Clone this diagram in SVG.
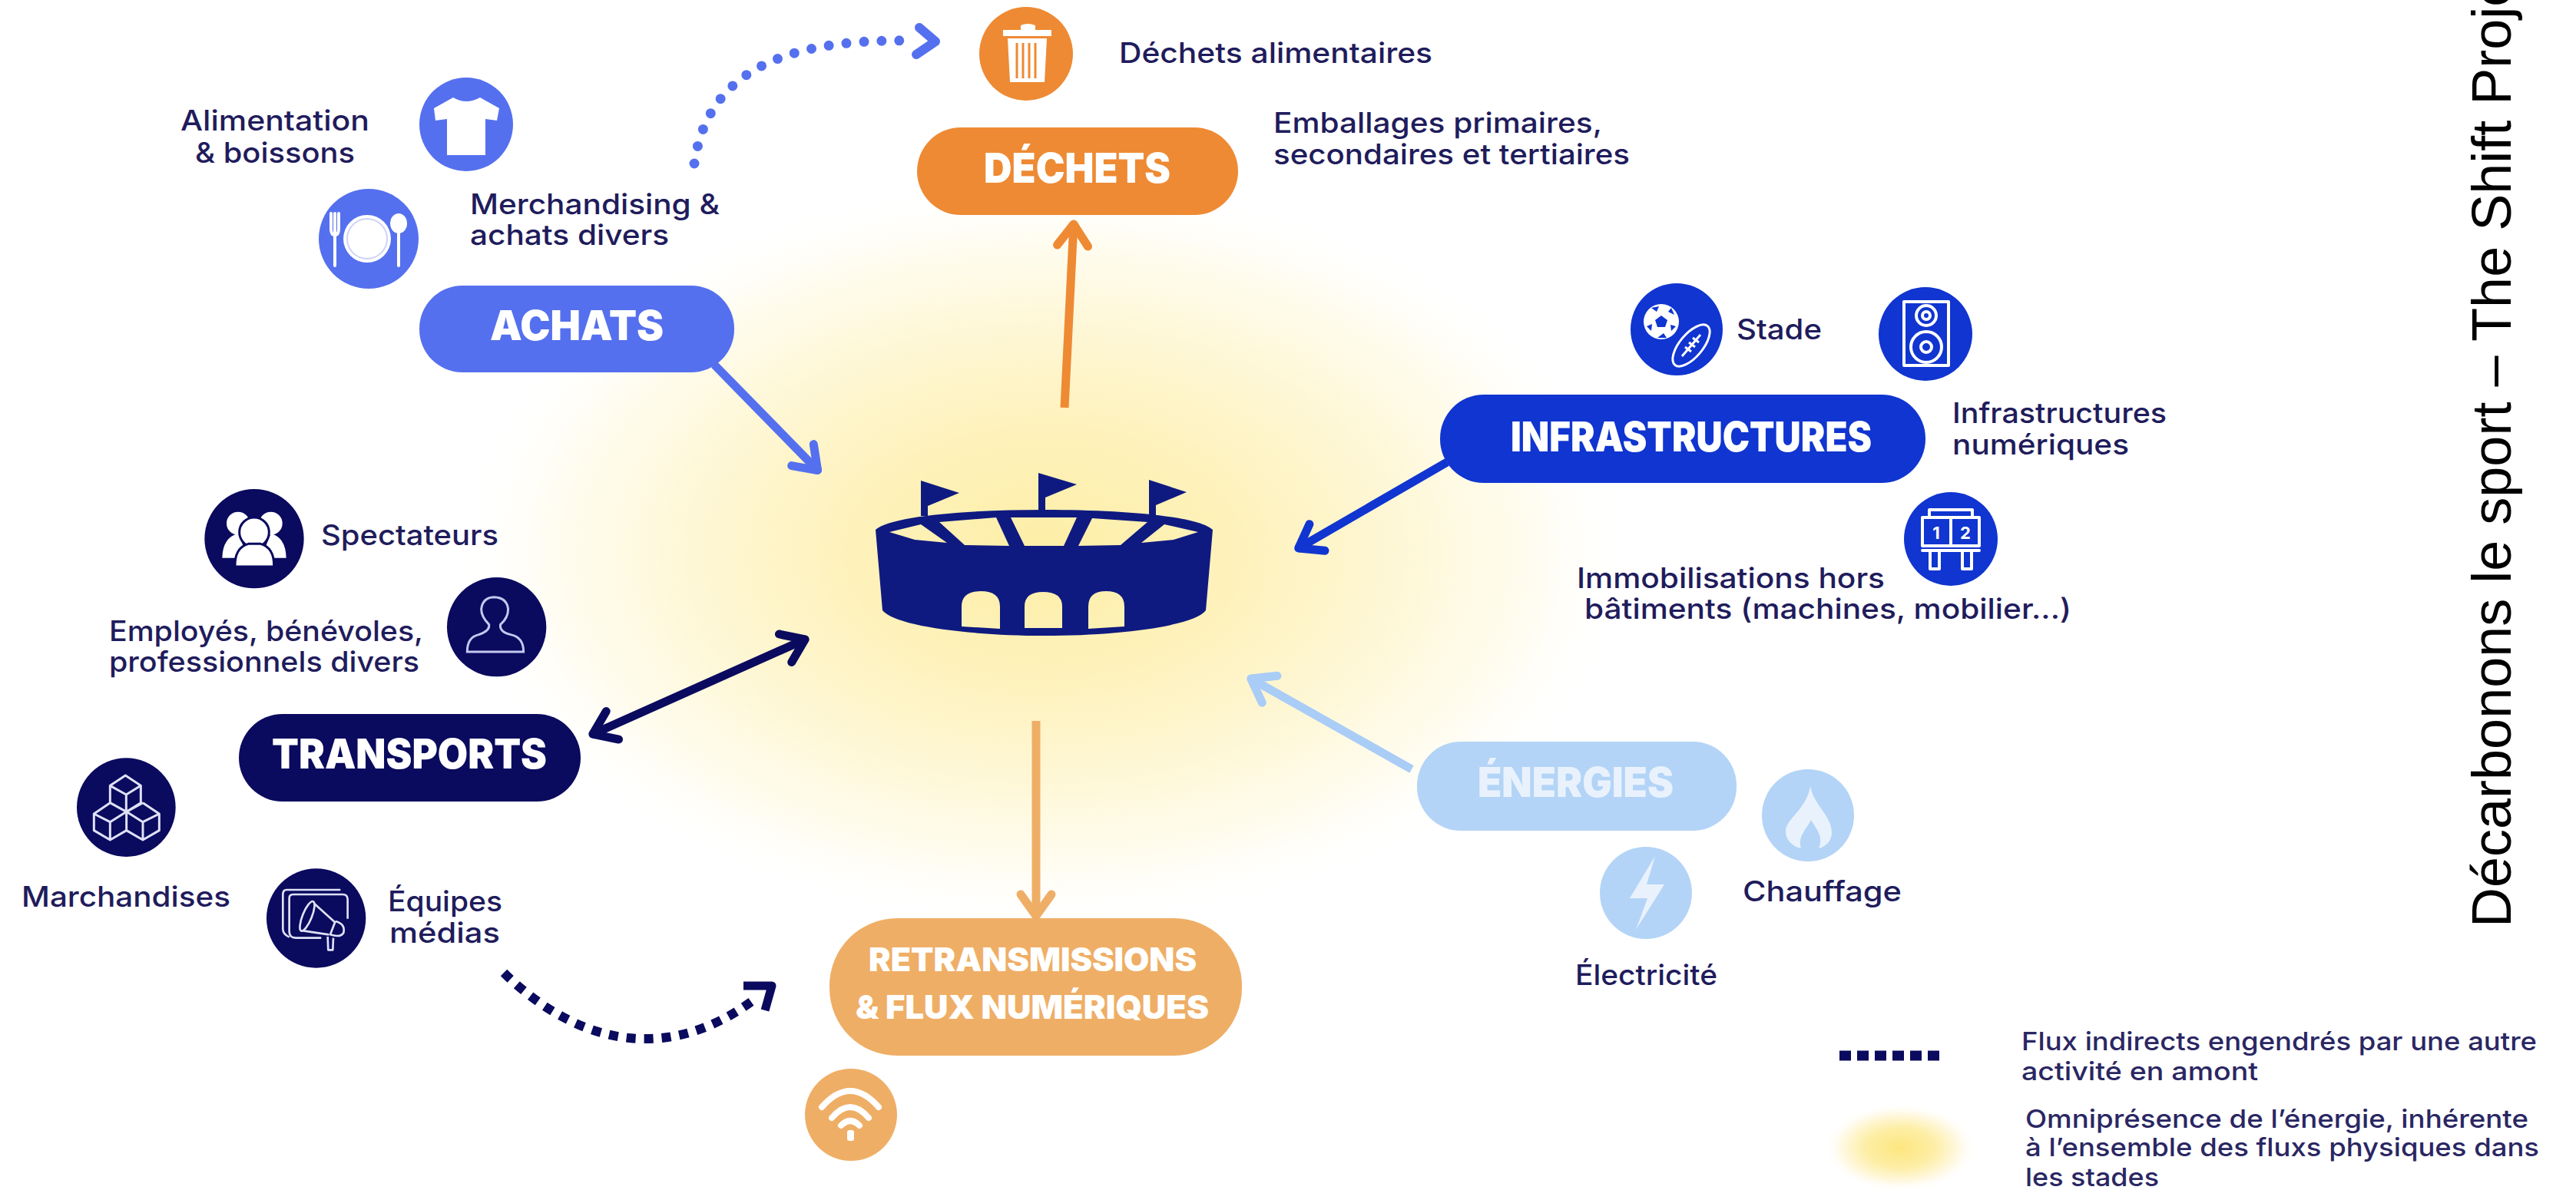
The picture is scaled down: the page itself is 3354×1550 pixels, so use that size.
<svg xmlns="http://www.w3.org/2000/svg" width="3354" height="1550" viewBox="0 0 3354 1550">
<style>
text{font-family:"Inter","Liberation Sans",sans-serif}
.t{font-size:37px;fill:#1f1c5c;font-weight:500}
.l{font-size:33px;fill:#2a2763;font-weight:500}
.p{font-weight:900;fill:#fff;font-size:53px}
.c{fill:none;stroke-width:11;stroke-linecap:butt}
.i{fill:none;stroke:#fff;stroke-width:4;stroke-linejoin:round;stroke-linecap:round}
.w{fill:#fff}
.a{fill:#5570ee}.o{fill:#ee8a33}.n{fill:#0a0a5e}.b{fill:#1035d0}.e{fill:#b3d4f7}.r{fill:#efae66}
</style>
<defs>
<radialGradient id="glow" cx="0.5" cy="0.5" r="0.5">
<stop offset="0" stop-color="#fdeea6"/><stop offset=".35" stop-color="#fef2bd"/><stop offset=".6" stop-color="#fef7d6"/><stop offset=".85" stop-color="#fffdf3"/><stop offset="1" stop-color="#fff" stop-opacity="0"/>
</radialGradient>
<radialGradient id="glow2" cx="0.5" cy="0.5" r="0.5">
<stop offset="0" stop-color="#fde67f"/><stop offset=".45" stop-color="#fdeea6"/><stop offset=".8" stop-color="#fffaea"/><stop offset="1" stop-color="#fff" stop-opacity="0"/>
</radialGradient>
<marker id="mA" markerUnits="userSpaceOnUse" orient="auto" overflow="visible" markerWidth="1" markerHeight="1"><path d="M-30,-20L-2,0L-30,20" fill="none" stroke="#5570ee" stroke-width="11" stroke-linecap="round" stroke-linejoin="round"/></marker>
<marker id="mO" markerUnits="userSpaceOnUse" orient="auto" overflow="visible" markerWidth="1" markerHeight="1"><path d="M-30,-20L-2,0L-30,20" fill="none" stroke="#ee8a33" stroke-width="11" stroke-linecap="round" stroke-linejoin="round"/></marker>
<marker id="mB" markerUnits="userSpaceOnUse" orient="auto" overflow="visible" markerWidth="1" markerHeight="1"><path d="M-30,-20L-2,0L-30,20" fill="none" stroke="#1035d0" stroke-width="11" stroke-linecap="round" stroke-linejoin="round"/></marker>
<marker id="mN" markerUnits="userSpaceOnUse" orient="auto" overflow="visible" markerWidth="1" markerHeight="1"><path d="M-30,-20L-2,0L-30,20" fill="none" stroke="#0a0a5e" stroke-width="11" stroke-linecap="round" stroke-linejoin="round"/></marker>
<marker id="mNs" markerUnits="userSpaceOnUse" orient="auto-start-reverse" overflow="visible" markerWidth="1" markerHeight="1"><path d="M-30,-20L-2,0L-30,20" fill="none" stroke="#0a0a5e" stroke-width="11" stroke-linecap="round" stroke-linejoin="round"/></marker>
<marker id="mR" markerUnits="userSpaceOnUse" orient="auto" overflow="visible" markerWidth="1" markerHeight="1"><path d="M-30,-20L-2,0L-30,20" fill="none" stroke="#efae66" stroke-width="11" stroke-linecap="round" stroke-linejoin="round"/></marker>
<marker id="mE" markerUnits="userSpaceOnUse" orient="auto" overflow="visible" markerWidth="1" markerHeight="1"><path d="M-30,-20L-2,0L-30,20" fill="none" stroke="#a9cdf6" stroke-width="11" stroke-linecap="round" stroke-linejoin="round"/></marker>
</defs>
<rect width="3354" height="1550" fill="#fff"/>
<ellipse id="glow-center" cx="1360" cy="720" rx="770" ry="490" fill="url(#glow)"/>

<g id="connectors">
<path class="c" stroke="#5570ee" d="M930,475L1066,614" marker-end="url(#mA)"/>
<path class="c" stroke="#ee8a33" d="M1386,531L1398,290" marker-end="url(#mO)"/>
<path class="c" stroke="#1035d0" d="M1884,602L1689,715" marker-end="url(#mB)"/>
<path class="c" stroke="#0a0a5e" d="M770,957L1050,832" marker-start="url(#mNs)" marker-end="url(#mN)"/>
<path class="c" stroke="#efae66" d="M1349,939V1195" marker-end="url(#mR)"/>
<path class="c" stroke="#a9cdf6" d="M1838,1002L1627,883" marker-end="url(#mE)"/>
<path fill="none" stroke="#5570ee" stroke-width="13" stroke-linecap="round" stroke-dasharray="0 23" d="M904,213C920,100 1010,50 1186,53"/>
<path fill="none" stroke="#5570ee" stroke-width="12" stroke-linecap="round" stroke-linejoin="round" d="M1197,36L1218,54L1193,71"/>
<path fill="none" stroke="#0a0a5e" stroke-width="12" stroke-dasharray="12 11" d="M656,1267C740,1350 860,1395 986,1299"/>
<path fill="none" stroke="#0a0a5e" stroke-width="11" stroke-linejoin="round" d="M968,1284L1005,1284L996,1316"/>
</g>

<g id="node-stade">
<path fill="#0f1a80" fill-rule="evenodd" d="M1140,690C1160,672 1260,664 1360,664C1460,664 1560,672 1579,690L1570,795C1555,815 1460,828 1360,828C1260,828 1165,815 1149,795Z
M1158,693L1199,683L1233,707L1191,703Z
M1223,680L1297,674L1314,711L1256,710Z
M1316,674L1402,674L1385,711L1334,711Z
M1422,675L1494,680L1459,710L1404,711Z
M1516,683L1560,693L1528,703L1486,707Z
M1252,816V790Q1252,770 1277,770Q1302,770 1302,790V819Z
M1334,818V790Q1334,771 1358,771Q1383,771 1383,790V818Z
M1417,819V790Q1417,770 1440,770Q1464,770 1464,790V816Z"/>
<g fill="#0f1a80">
<path d="M1199,626L1249,642L1208,659V672H1199Z"/>
<path d="M1352,616L1402,631L1361,648V668H1352Z"/>
<path d="M1496,625L1545,641L1505,658V672H1496Z"/>
</g>
</g>

<g id="node-achats">
<rect class="a" x="546" y="372" width="410" height="113" rx="56"/>
<text class="p" x="638" y="443" textLength="226" lengthAdjust="spacingAndGlyphs">ACHATS</text>
</g>
<g id="item-alimentation">
<circle class="a" cx="607" cy="162" r="61"/>
<path class="w" d="M590,127Q607,137 625,127L650,141L647,157L632,155V202H582V155L567,157L565,141Z"/>
<text class="t" x="235" y="170" textLength="246" lengthAdjust="spacingAndGlyphs">Alimentation</text>
<text class="t" x="254" y="212" textLength="208" lengthAdjust="spacingAndGlyphs">&amp; boissons</text>
</g>
<g id="item-merchandising">
<circle class="a" cx="480" cy="311" r="65"/>
<circle cx="478" cy="311" r="31" fill="#fff"/><circle cx="478" cy="311" r="26" fill="none" stroke="#cdd3f5" stroke-width="2"/>
<path class="i" d="M431,278V298Q431,306 436,306Q441,306 441,298V278M436,278V346"/>
<ellipse class="w" cx="519" cy="291" rx="11" ry="13"/><path class="i" d="M519,300V346"/>
<text class="t" x="612" y="279" textLength="325" lengthAdjust="spacingAndGlyphs">Merchandising &amp;</text>
<text class="t" x="612" y="319" textLength="259" lengthAdjust="spacingAndGlyphs">achats divers</text>
</g>

<g id="node-dechets">
<rect class="o" x="1194" y="166" width="418" height="114" rx="57"/>
<text class="p" x="1281" y="238" textLength="243" lengthAdjust="spacingAndGlyphs">DÉCHETS</text>
</g>
<g id="item-dechets-alimentaires">
<circle class="o" cx="1336" cy="70" r="61"/>
<path class="w" d="M1329,39V33Q1338,29 1348,33V39H1369V47H1306V39Z"/>
<path class="w" d="M1312,50H1363L1360,107H1315Z"/>
<path stroke="#ee8a33" stroke-width="3" d="M1324,56V102M1332,56V102M1340,56V102M1348,56V102"/>
<text class="t" x="1457" y="82" textLength="408" lengthAdjust="spacingAndGlyphs">Déchets alimentaires</text>
</g>
<g id="item-emballages">
<text class="t" x="1658" y="173" textLength="428" lengthAdjust="spacingAndGlyphs">Emballages primaires,</text>
<text class="t" x="1658" y="214" textLength="464" lengthAdjust="spacingAndGlyphs">secondaires et tertiaires</text>
</g>

<g id="node-infrastructures">
<rect class="b" x="1875" y="514" width="632" height="115" rx="57"/>
<text class="p" x="1967" y="588" textLength="470" lengthAdjust="spacingAndGlyphs">INFRASTRUCTURES</text>
</g>
<g id="item-stade">
<circle class="b" cx="2183" cy="429" r="60"/>
<circle class="w" cx="2163" cy="419" r="23"/>
<path class="b" d="M2163,411L2171,417L2168,426H2158L2155,417Z"/>
<path class="b" d="M2150,401L2160,399L2157,406ZM2176,401L2180,410L2172,406ZM2144,425L2151,422L2150,431ZM2182,425L2176,431L2175,423ZM2158,440L2166,434L2170,440Z"/>
<ellipse cx="2202" cy="450" rx="33" ry="15" transform="rotate(-50 2202 450)" fill="#1035d0" stroke="#fff" stroke-width="3"/>
<path fill="none" stroke="#fff" stroke-width="3" d="M2190,464L2214,436M2194,452L2202,458M2199,446L2207,452M2204,440L2212,446"/>
<text class="t" x="2261" y="442" textLength="111" lengthAdjust="spacingAndGlyphs">Stade</text>
</g>
<g id="item-numeriques">
<circle class="b" cx="2507" cy="435" r="61"/>
<rect class="i" x="2479" y="393" width="58" height="83"/>
<circle class="i" cx="2508" cy="411" r="13"/><circle class="i" cx="2508" cy="411" r="5"/>
<circle class="i" cx="2508" cy="452" r="20"/><circle class="i" cx="2508" cy="452" r="7"/>
<text class="t" x="2542" y="551" textLength="279" lengthAdjust="spacingAndGlyphs">Infrastructures</text>
<text class="t" x="2542" y="592" textLength="230" lengthAdjust="spacingAndGlyphs">numériques</text>
</g>
<g id="item-immobilisations">
<circle class="b" cx="2540" cy="702" r="61"/>
<path class="i" d="M2512,674V664H2568V674M2503,674H2577V711H2503ZM2540,674V711M2503,717H2577M2513,717V741H2525V717M2555,717V741H2567V717"/>
<text x="2521" y="702" text-anchor="middle" font-size="22" font-weight="700" fill="#fff">1</text>
<text x="2559" y="702" text-anchor="middle" font-size="22" font-weight="700" fill="#fff">2</text>
<text class="t" x="2053" y="766" textLength="401" lengthAdjust="spacingAndGlyphs">Immobilisations hors</text>
<text class="t" x="2063" y="806" textLength="634" lengthAdjust="spacingAndGlyphs">bâtiments (machines, mobilier...)</text>
</g>

<g id="node-transports">
<rect class="n" x="311" y="930" width="445" height="114" rx="57"/>
<text class="p" x="354" y="1001" textLength="358" lengthAdjust="spacingAndGlyphs">TRANSPORTS</text>
</g>
<g id="item-spectateurs">
<g transform="translate(260,630) scale(.3333)">
<circle class="n" cx="213" cy="215" r="194"/>
<circle class="w" cx="150" cy="155" r="45"/><circle class="w" cx="278" cy="155" r="45"/>
<path class="w" d="M88,290Q90,210 150,195L190,290ZM338,290Q336,210 278,195L240,290Z"/>
<circle class="w" cx="213" cy="190" r="58" stroke="#0a0a5e" stroke-width="9"/>
<path class="w" stroke="#0a0a5e" stroke-width="9" d="M138,324Q136,250 190,235H238Q292,250 290,324Z"/>
</g>
<text class="t" x="418" y="710" textLength="231" lengthAdjust="spacingAndGlyphs">Spectateurs</text>
</g>
<g id="item-employes">
<g transform="translate(260,630) scale(.3333)">
<circle class="n" cx="1160" cy="560" r="194"/>
<path fill="none" stroke="#c4c8f0" stroke-width="9" d="M1045,657Q1045,600 1090,590Q1135,575 1130,550Q1100,520 1100,490Q1105,445 1150,443Q1200,445 1205,490Q1205,525 1175,550Q1170,580 1215,590Q1265,600 1265,657Z"/>
</g>
<text class="t" x="142" y="835" textLength="409" lengthAdjust="spacingAndGlyphs">Employés, bénévoles,</text>
<text class="t" x="142" y="875" textLength="404" lengthAdjust="spacingAndGlyphs">professionnels divers</text>
</g>
<g id="item-marchandises">
<g transform="translate(90,980) scale(.3333)">
<circle class="n" cx="223" cy="215" r="193"/>
<path fill="none" stroke="#dfe1f7" stroke-width="9" stroke-linejoin="round" d="M220,90L280,130V197L224,232L160,197V130ZM160,130L223,165L280,130M223,165V232M160,197L97,240V305L160,342L224,305V232M97,240L160,272L224,232M160,272V342M288,197L224,232L288,272L352,240V305L288,342L224,305M288,197L352,240M288,272V342"/>
</g>
<text class="t" x="28" y="1181" textLength="272" lengthAdjust="spacingAndGlyphs">Marchandises</text>
</g>
<g id="item-medias">
<g transform="translate(90,980) scale(.3333)">
<circle class="n" cx="965" cy="648" r="194"/>
<path fill="none" stroke="#dfe1f7" stroke-width="8" stroke-linejoin="round" d="M1088,650V575Q1088,555 1068,555H875Q860,555 860,570V700Q860,725 885,725H985M1060,537H850Q835,537 835,555V690Q835,710 860,722"/>
<ellipse cx="930" cy="640" rx="18" ry="62" fill="none" stroke="#dfe1f7" stroke-width="8" transform="rotate(22 930 640)"/>
<path fill="none" stroke="#dfe1f7" stroke-width="8" stroke-linejoin="round" d="M957,590L1040,665M915,697L1015,712M1040,660Q1080,670 1072,705Q1060,725 1020,712L1040,660M1010,720L1012,772H1030L1032,725"/>
</g>
<text class="t" x="505" y="1187" textLength="149" lengthAdjust="spacingAndGlyphs">Équipes</text>
<text class="t" x="507" y="1228" textLength="144" lengthAdjust="spacingAndGlyphs">médias</text>
</g>

<g id="node-retransmissions">
<rect class="r" x="1080" y="1196" width="537" height="179" rx="88"/>
<text class="p" style="font-size:42px" x="1131" y="1265" textLength="427" lengthAdjust="spacingAndGlyphs">RETRANSMISSIONS</text>
<text class="p" style="font-size:42px" x="1114" y="1327" textLength="460" lengthAdjust="spacingAndGlyphs">&amp; FLUX NUMÉRIQUES</text>
</g>
<g id="item-wifi">
<circle class="r" cx="1108" cy="1452" r="60"/>
<path fill="none" stroke="#fff" stroke-width="8" stroke-linecap="round" d="M1070,1442Q1107,1400 1144,1442M1083,1456Q1107,1428 1131,1456M1095,1466Q1107,1454 1119,1466"/>
<rect class="w" x="1103" y="1472" width="9" height="14" rx="3"/>
</g>

<g id="node-energies">
<rect class="e" x="1845" y="966" width="416" height="116" rx="57"/>
<text class="p" x="1924" y="1038" textLength="255" lengthAdjust="spacingAndGlyphs" style="fill:#e9f2fc">ÉNERGIES</text>
</g>
<g id="item-chauffage">
<circle class="e" cx="2354" cy="1062" r="60"/>
<path fill="#e9f2fc" d="M2357,1024C2362,1050 2385,1062 2385,1085C2385,1096 2376,1103 2368,1105C2375,1090 2365,1080 2358,1068C2352,1080 2340,1090 2345,1105C2335,1103 2325,1095 2325,1083C2325,1066 2352,1055 2357,1024Z"/>
<text class="t" x="2269" y="1174" textLength="207" lengthAdjust="spacingAndGlyphs">Chauffage</text>
</g>
<g id="item-electricite">
<circle class="e" cx="2143" cy="1163" r="60"/>
<path fill="#e9f2fc" d="M2155,1115L2122,1170H2145L2130,1211L2167,1152H2144Z"/>
<text class="t" x="2051" y="1283" textLength="185" lengthAdjust="spacingAndGlyphs">Électricité</text>
</g>

<g id="legend">
<path stroke="#0a0a5e" stroke-width="13" stroke-dasharray="15 8" fill="none" d="M2395,1375H2525"/>
<text class="l" x="2632" y="1368" textLength="671" lengthAdjust="spacingAndGlyphs">Flux indirects engendrés par une autre</text>
<text class="l" x="2632" y="1407" textLength="308" lengthAdjust="spacingAndGlyphs">activité en amont</text>
<ellipse cx="2474" cy="1495" rx="100" ry="58" fill="url(#glow2)"/>
<text class="l" x="2637" y="1469" textLength="655" lengthAdjust="spacingAndGlyphs">Omniprésence de l’énergie, inhérente</text>
<text class="l" x="2637" y="1506" textLength="669" lengthAdjust="spacingAndGlyphs">à l’ensemble des fluxs physiques dans</text>
<text class="l" x="2637" y="1545" textLength="174" lengthAdjust="spacingAndGlyphs">les stades</text>
</g>

<text id="side-credit" transform="translate(3269,1208) rotate(-90)" style="font-family:'Liberation Sans',Arial,sans-serif;font-size:72px;fill:#000">Décarbonons le sport – The Shift Proje</text>
</svg>
